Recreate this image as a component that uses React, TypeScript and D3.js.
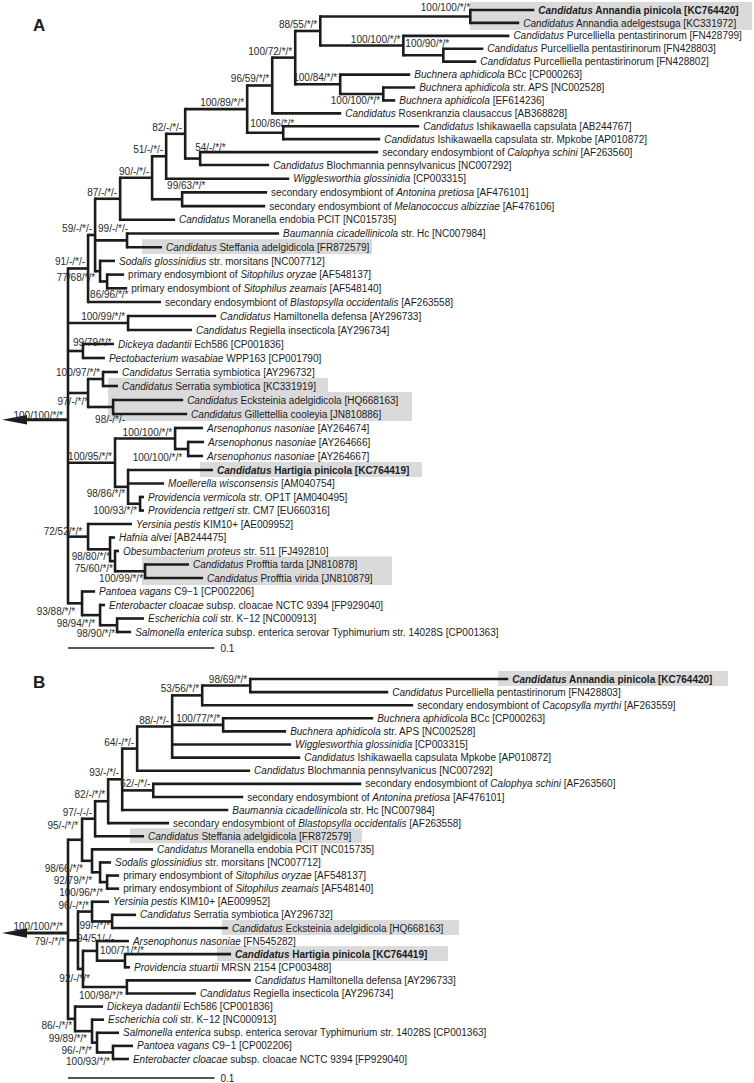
import React from 'react';
import * as d3 from 'd3';

// ---------- DATA: panel A ----------
const taxaA: [string, string][] = [
  ['AnnPin', '*Candidatus* Annandia pinicola [KC764420]'],
  ['AnnAdel', '*Candidatus* Annandia adelgestsuga [KC331972]'],
  ['Purc799', '*Candidatus* Purcelliella pentastirinorum [FN428799]'],
  ['Purc803', '*Candidatus* Purcelliella pentastirinorum [FN428803]'],
  ['Purc802', '*Candidatus* Purcelliella pentastirinorum [FN428802]'],
  ['BuchBCc', '*Buchnera aphidicola* BCc [CP000263]'],
  ['BuchAPS', '*Buchnera aphidicola* str. APS [NC002528]'],
  ['BuchEF', '*Buchnera aphidicola* [EF614236]'],
  ['Rosen', '*Candidatus* Rosenkranzia clausaccus [AB368828]'],
  ['Ishi', '*Candidatus* Ishikawaella capsulata [AB244767]'],
  ['IshiMp', '*Candidatus* Ishikawaella capsulata str. Mpkobe [AP010872]'],
  ['Calophya', 'secondary endosymbiont of *Calophya schini* [AF263560]'],
  ['Bloch', '*Candidatus* Blochmannia pennsylvanicus [NC007292]'],
  ['Wigg', '*Wigglesworthia glossinidia* [CP003315]'],
  ['Antonina', 'secondary endosymbiont of *Antonina pretiosa* [AF476101]'],
  ['Melano', 'secondary endosymbiont of *Melanococcus albizziae* [AF476106]'],
  ['Moranella', '*Candidatus* Moranella endobia PCIT [NC015735]'],
  ['Baumannia', '*Baumannia cicadellinicola* str. Hc [NC007984]'],
  ['Steffania', '*Candidatus* Steffania adelgidicola [FR872579]'],
  ['Sodalis', '*Sodalis glossinidius* str. morsitans [NC007712]'],
  ['SitOry', 'primary endosymbiont of *Sitophilus oryzae* [AF548137]'],
  ['SitZea', 'primary endosymbiont of *Sitophilus zeamais* [AF548140]'],
  ['Blasto', 'secondary endosymbiont of *Blastopsylla occidentalis* [AF263558]'],
  ['Hamilt', '*Candidatus* Hamiltonella defensa [AY296733]'],
  ['Regiella', '*Candidatus* Regiella insecticola [AY296734]'],
  ['Dickeya', '*Dickeya dadantii* Ech586 [CP001836]'],
  ['Pecto', '*Pectobacterium wasabiae* WPP163 [CP001790]'],
  ['SerrAY', '*Candidatus* Serratia symbiotica [AY296732]'],
  ['SerrKC', '*Candidatus* Serratia symbiotica [KC331919]'],
  ['Eck', '*Candidatus* Ecksteinia adelgidicola [HQ668163]'],
  ['Gill', '*Candidatus* Gillettellia cooleyia [JN810886]'],
  ['Ars674', '*Arsenophonus nasoniae* [AY264674]'],
  ['Ars666', '*Arsenophonus nasoniae* [AY264666]'],
  ['Ars667', '*Arsenophonus nasoniae* [AY264667]'],
  ['Hartigia', '*Candidatus* Hartigia pinicola [KC764419]'],
  ['Moell', '*Moellerella wisconsensis* [AM040754]'],
  ['ProvVer', '*Providencia vermicola* str. OP1T [AM040495]'],
  ['ProvRet', '*Providencia rettgeri* str. CM7 [EU660316]'],
  ['Yersinia', '*Yersinia pestis* KIM10+ [AE009952]'],
  ['Hafnia', '*Hafnia alvei* [AB244475]'],
  ['Obesum', '*Obesumbacterium proteus* str. 511 [FJ492810]'],
  ['ProTarda', '*Candidatus* Profftia tarda [JN810878]'],
  ['ProVirida', '*Candidatus* Profftia virida [JN810879]'],
  ['Pantoea', '*Pantoea vagans* C9\u22121 [CP002206]'],
  ['Entero', '*Enterobacter cloacae* subsp. cloacae NCTC 9394 [FP929040]'],
  ['Ecoli', '*Escherichia coli* str. K\u221212 [NC000913]'],
  ['Salm', '*Salmonella enterica* subsp. enterica serovar Typhimurium str. 14028S [CP001363]'],
];

// [node, parent, branch length (substitutions/site)]
const edgesA: [string, string | null, number][] = [
  ['root', null, 0],
  ['N91', 'root', 0.0137],
  ['N59', 'N91', 0.0048],
  ['N87', 'N59', 0.0171],
  ['N90', 'N87', 0.0218],
  ['N51', 'N90', 0.0096],
  ['N82', 'N51', 0.013],
  ['N100_89', 'N82', 0.0423],
  ['N96', 'N100_89', 0.0171],
  ['N100_72', 'N96', 0.0157],
  ['N88', 'N100_72', 0.0171],
  ['NAnn', 'N88', 0.1024],
  ['AnnPin', 'NAnn', 0.0437],
  ['AnnAdel', 'NAnn', 0.0334],
  ['NPurc', 'N88', 0.0567],
  ['Purc799', 'NPurc', 0.0724],
  ['N100_90', 'NPurc', 0.0273],
  ['Purc803', 'N100_90', 0.0273],
  ['Purc802', 'N100_90', 0.0225],
  ['N100_84', 'N100_72', 0.0307],
  ['BuchBCc', 'N100_84', 0.0478],
  ['NAPS', 'N100_84', 0.0294],
  ['BuchAPS', 'NAPS', 0.0218],
  ['BuchEF', 'NAPS', 0.0082],
  ['Rosen', 'N96', 0.0471],
  ['N100_86', 'N100_89', 0.0246],
  ['Ishi', 'N100_86', 0.0928],
  ['IshiMp', 'N100_86', 0.0662],
  ['N54', 'N82', 0.0102],
  ['Calophya', 'N54', 0.1215],
  ['Bloch', 'N54', 0.0471],
  ['Wigg', 'N51', 0.084],
  ['N99_63', 'N90', 0.0205],
  ['Antonina', 'N99_63', 0.058],
  ['Melano', 'N99_63', 0.0567],
  ['Moranella', 'N87', 0.0375],
  ['N99', 'N59', 0.0218],
  ['Baumannia', 'N99', 0.1038],
  ['Steffania', 'N99', 0.0239],
  ['N77', 'N59', 0.0034],
  ['Sodalis', 'N77', 0.0102],
  ['N86_96', 'N77', 0.0048],
  ['SitOry', 'N86_96', 0.0116],
  ['SitZea', 'N86_96', 0.0137],
  ['Blasto', 'N91', 0.0498],
  ['N100_99', 'root', 0.041],
  ['Hamilt', 'N100_99', 0.0601],
  ['Regiella', 'N100_99', 0.0437],
  ['N99_79', 'root', 0.0102],
  ['Dickeya', 'N99_79', 0.0212],
  ['Pecto', 'N99_79', 0.015],
  ['N97', 'root', 0.0137],
  ['N100_97', 'N97', 0.0102],
  ['SerrAY', 'N100_97', 0.0102],
  ['SerrKC', 'N100_97', 0.0102],
  ['N98', 'N97', 0.0171],
  ['Eck', 'N98', 0.0478],
  ['Gill', 'N98', 0.0505],
  ['N100_95', 'root', 0.0321],
  ['NArs', 'N100_95', 0.041],
  ['Ars674', 'NArs', 0.0191],
  ['NArs2', 'NArs', 0.0089],
  ['Ars666', 'NArs2', 0.0109],
  ['Ars667', 'NArs2', 0.0102],
  ['N98_86', 'N100_95', 0.0089],
  ['Hartigia', 'N98_86', 0.058],
  ['Moell', 'N98_86', 0.0246],
  ['N100_93', 'N98_86', 0.0082],
  ['ProvVer', 'N100_93', 0.0027],
  ['ProvRet', 'N100_93', 0.0027],
  ['N72', 'root', 0.0137],
  ['Yersinia', 'N72', 0.03],
  ['N98_80', 'N72', 0.015],
  ['Hafnia', 'N98_80', 0.0034],
  ['N75', 'N98_80', 0.0034],
  ['Obesum', 'N75', 0.0027],
  ['N100_99b', 'N75', 0.0205],
  ['ProTarda', 'N100_99b', 0.03],
  ['ProVirida', 'N100_99b', 0.0396],
  ['N93', 'root', 0.0096],
  ['Pantoea', 'N93', 0.0089],
  ['N98_94', 'N93', 0.0123],
  ['Entero', 'N98_94', 0.0034],
  ['N98_90', 'N98_94', 0.0116],
  ['Ecoli', 'N98_90', 0.0184],
  ['Salm', 'N98_90', 0.0096],
];

const supportA: [string, string][] = [
  ['root', '100/100/*/*'], ['N91', '91/-/*/-'], ['N59', '59/-/*/-'], ['N87', '87/-/*/-'],
  ['N90', '90/-/*/-'], ['N51', '51/-/*/-'], ['N82', '82/-/*/-'], ['N100_89', '100/89/*/*'],
  ['N96', '96/59/*/*'], ['N100_72', '100/72/*/*'], ['N88', '88/55/*/*'], ['NAnn', '100/100/*/*'],
  ['NPurc', '100/100/*/*'], ['N100_90', '100/90/*/*'], ['N100_84', '100/84/*/*'], ['NAPS', '100/100/*/*'],
  ['N100_86', '100/86/*/*'], ['N54', '54/-/*/*'], ['N99_63', '99/63/*/*'], ['N99', '99/-/*/-'],
  ['N77', '77/68/*/*'], ['N86_96', '86/96/*/*'], ['N100_99', '100/99/*/*'], ['N99_79', '99/79/*/*'],
  ['N100_97', '100/97/*/*'], ['N97', '97/-/*/*'], ['N98', '98/-/*/-'], ['N100_95', '100/95/*/*'],
  ['NArs', '100/100/*/*'], ['NArs2', '100/100/*/*'], ['N98_86', '98/86/*/*'], ['N100_93', '100/93/*/*'],
  ['N72', '72/52/*/*'], ['N98_80', '98/80/*/*'], ['N75', '75/60/*/*'], ['N100_99b', '100/99/*/*'],
  ['N93', '93/88/*/*'], ['N98_94', '98/94/*/*'], ['N98_90', '98/90/*/*'],
];

// ---------- DATA: panel B ----------
const taxaB: [string, string][] = [
  ['AnnPin', '*Candidatus* Annandia pinicola [KC764420]'],
  ['Purc803', '*Candidatus* Purcelliella pentastirinorum [FN428803]'],
  ['Cacop', 'secondary endosymbiont of *Cacopsylla myrthi* [AF263559]'],
  ['BuchBCc', '*Buchnera aphidicola* BCc [CP000263]'],
  ['BuchAPS', '*Buchnera aphidicola* str. APS [NC002528]'],
  ['Wigg', '*Wigglesworthia glossinidia* [CP003315]'],
  ['IshiMp', '*Candidatus* Ishikawaella capsulata Mpkobe [AP010872]'],
  ['Bloch', '*Candidatus* Blochmannia pennsylvanicus [NC007292]'],
  ['Calophya', 'secondary endosymbiont of *Calophya schini* [AF263560]'],
  ['Antonina', 'secondary endosymbiont of *Antonina pretiosa* [AF476101]'],
  ['Baumannia', '*Baumannia cicadellinicola* str. Hc [NC007984]'],
  ['Blasto', 'secondary endosymbiont of *Blastopsylla occidentalis* [AF263558]'],
  ['Steffania', '*Candidatus* Steffania adelgidicola [FR872579]'],
  ['Moranella', '*Candidatus* Moranella endobia PCIT [NC015735]'],
  ['Sodalis', '*Sodalis glossinidius* str. morsitans [NC007712]'],
  ['SitOry', 'primary endosymbiont of *Sitophilus oryzae* [AF548137]'],
  ['SitZea', 'primary endosymbiont of *Sitophilus zeamais* [AF548140]'],
  ['Yersinia', '*Yersinia pestis* KIM10+ [AE009952]'],
  ['SerrAY', '*Candidatus* Serratia symbiotica [AY296732]'],
  ['Eck', '*Candidatus* Ecksteinia adelgidicola [HQ668163]'],
  ['ArsB', '*Arsenophonus nasoniae* [FN545282]'],
  ['Hartigia', '*Candidatus* Hartigia pinicola [KC764419]'],
  ['ProvStu', '*Providencia stuartii* MRSN 2154 [CP003488]'],
  ['Hamilt', '*Candidatus* Hamiltonella defensa [AY296733]'],
  ['Regiella', '*Candidatus* Regiella insecticola [AY296734]'],
  ['Dickeya', '*Dickeya dadantii* Ech586 [CP001836]'],
  ['Ecoli', '*Escherichia coli* str. K\u221212 [NC000913]'],
  ['Salm', '*Salmonella enterica* subsp. enterica serovar Typhimurium str. 14028S [CP001363]'],
  ['Pantoea', '*Pantoea vagans* C9\u22121 [CP002206]'],
  ['Entero', '*Enterobacter cloacae* subsp. cloacae NCTC 9394 [FP929040]'],
];

const edgesB: [string, string | null, number][] = [
  ['root', null, 0],
  ['N95B', 'root', 0.0096],
  ['N97B', 'N95B', 0.0089],
  ['N82B', 'N97B', 0.0089],
  ['N93B', 'N82B', 0.0096],
  ['N64', 'N93B', 0.0102],
  ['N88B', 'N64', 0.0239],
  ['N53', 'N88B', 0.0205],
  ['N98_69', 'N53', 0.0328],
  ['AnnPin', 'N98_69', 0.1761],
  ['Purc803', 'N98_69', 0.0942],
  ['Cacop', 'N53', 0.144],
  ['N100_77', 'N88B', 0.0348],
  ['BuchBCc', 'N100_77', 0.1024],
  ['BuchAPS', 'N100_77', 0.043],
  ['Wigg', 'N88B', 0.0812],
  ['IshiMp', 'N88B', 0.0874],
  ['Bloch', 'N64', 0.0771],
  ['N62', 'N93B', 0.0212],
  ['Calophya', 'N62', 0.142],
  ['Antonina', 'N62', 0.0614],
  ['Baumannia', 'N93B', 0.0724],
  ['Blasto', 'N82B', 0.0416],
  ['Steffania', 'N97B', 0.0334],
  ['N98_66', 'N95B', 0.0068],
  ['Moranella', 'N98_66', 0.0416],
  ['N92', 'N98_66', 0.0055],
  ['Sodalis', 'N92', 0.0075],
  ['N100_96', 'N92', 0.0048],
  ['SitOry', 'N100_96', 0.0082],
  ['SitZea', 'N100_96', 0.0082],
  ['N79', 'root', 0.0068],
  ['N96B', 'N79', 0.0096],
  ['Yersinia', 'N96B', 0.0116],
  ['N99B', 'N96B', 0.0137],
  ['SerrAY', 'N99B', 0.0164],
  ['Eck', 'N99B', 0.0792],
  ['N92B', 'N79', 0.0034],
  ['N94', 'N92B', 0.0096],
  ['ArsB', 'N94', 0.0218],
  ['N100_71', 'N94', 0.0191],
  ['Hartigia', 'N100_71', 0.0724],
  ['ProvStu', 'N100_71', 0.0034],
  ['N100_98', 'N92B', 0.03],
  ['Hamilt', 'N100_98', 0.0846],
  ['Regiella', 'N100_98', 0.0471],
  ['N86', 'root', 0.0048],
  ['Dickeya', 'N86', 0.0191],
  ['N99_89', 'N86', 0.0116],
  ['Ecoli', 'N99_89', 0.0082],
  ['N96B2', 'N99_89', 0.0034],
  ['Salm', 'N96B2', 0.015],
  ['N100_93B', 'N96B2', 0.0109],
  ['Pantoea', 'N100_93B', 0.0137],
  ['Entero', 'N100_93B', 0.0109],
];

const supportB: [string, string][] = [
  ['root', '100/100/*/*'], ['N95B', '95/-/*/*'], ['N97B', '97/-/-/-'], ['N82B', '82/-/*/*'],
  ['N93B', '93/-/*/-'], ['N64', '64/-/*/-'], ['N88B', '88/-/*/-'], ['N53', '53/56/*/*'],
  ['N98_69', '98/69/*/*'], ['N100_77', '100/77/*/*'], ['N62', '62/-/*/-'], ['N98_66', '98/66/*/*'],
  ['N92', '92/79/*/*'], ['N100_96', '100/96/*/*'], ['N79', '79/-/*/*'], ['N96B', '96/-/*/*'],
  ['N99B', '99/-/*/*'], ['N92B', '92/-/*/*'], ['N94', '94/51/-/-'], ['N100_71', '100/71/*/*'],
  ['N100_98', '100/98/*/*'], ['N86', '86/-/*/*'], ['N99_89', '99/89/*/*'], ['N96B2', '96/-/*/*'],
  ['N100_93B', '100/93/*/*'],
];

const boldTaxa = ['AnnPin', 'Hartigia'];
const scaleBarValue = 0.1;

// ---------- STYLE / LAYOUT ----------
const FONT = "'Liberation Sans', Arial, Helvetica, sans-serif";
const INK = '#1c1c1c';
const BOX = '#dadada';

type Place = [string, number, number];

const layoutA = {
  letter: 'A', letterY: 31,
  yDomain: [0, 12, 22, 34, 46], yRange: [10, 165, 302, 470, 632],
  scaleBarY: 648,
  placement: {
    root: ['end', -5, -1], NAnn: ['end', 0, -5], N100_90: ['start', -38, -8], NAPS: ['end', -3, 10],
    N100_86: ['start', -33, -6], N54: ['start', -5, -8], N99_63: ['start', -15, -10], N99: ['end', 1, -8],
    N77: ['end', -5, 9.5], N86_96: ['start', -17, 17], N99_79: ['start', -10, -5], N97: ['end', 0, 11.5],
    N98: ['end', 12, 16], NArs2: ['end', -6, 11.5], N98_86: ['end', -3, 10], N100_93: ['end', -3, 10],
    N72: ['end', -6, -2], N98_80: ['end', 0, 11], N75: ['end', -2, 10.5], N100_99b: ['end', -2, 10.5],
    N93: ['end', -7, 12], N98_94: ['end', -5, 11.5], N98_90: ['end', -2, 11.5],
  } as Record<string, Place>,
  boxes: [
    { from: 'AnnPin', to: 'AnnAdel', x0: 470, x1: 752 },
    { from: 'Steffania', to: 'Steffania', x0: 142, x1: 372 },
    { from: 'SerrKC', to: 'SerrKC', x0: 108, x1: 328 },
    { from: 'Eck', to: 'Gill', x0: 108, x1: 412 },
    { from: 'Hartigia', to: 'Hartigia', x0: 200, x1: 422 },
    { from: 'ProTarda', to: 'ProVirida', x0: 142, x1: 392 },
  ],
};

const layoutB = {
  letter: 'B', letterY: 688,
  yDomain: [0, 29], yRange: [679, 1059],
  scaleBarY: 1078,
  placement: {
    root: ['end', -5, -3], N95B: ['end', -4, -11], N98_66: ['end', -9, 11], N92: ['end', -8, 11.5],
    N100_96: ['end', -4, 13.5], N99B: ['end', -2, 7.5], N94: ['start', -20, -9], N79: ['end', -13, 5],
    N100_71: ['start', -25, -7], N92B: ['end', 7, 13], N100_98: ['end', -4, 12], N86: ['end', -3, 9.7],
    N99_89: ['end', -5, 10.4], N96B2: ['end', -5, 11], N100_93B: ['end', -3, 13],
  } as Record<string, Place>,
  boxes: [
    { from: 'AnnPin', to: 'AnnPin', x0: 498, x1: 728 },
    { from: 'Steffania', to: 'Steffania', x0: 130, x1: 362 },
    { from: 'Eck', to: 'Eck', x0: 222, x1: 459 },
    { from: 'Hartigia', to: 'Hartigia', x0: 217, x1: 448 },
  ],
};

function TaxonText({ text, x, y, bold }: { text: string; x: number; y: number; bold: boolean }) {
  const parts = text.split('*');
  return (
    <text x={x} y={y} fontWeight={bold ? 'bold' : 'normal'} style={{ whiteSpace: 'pre' }}>
      {parts.map((p, i) => (p ? <tspan key={i} fontStyle={i % 2 === 1 ? 'italic' : 'normal'}>{p}</tspan> : null))}
    </text>
  );
}

function Panel({ taxa, edges, support, layout }: any) {
  const names = new Map<string, string>(taxa);
  const supp = new Map<string, string>(support);
  const root: any = d3.stratify<any>().id((d: any) => d[0]).parentId((d: any) => d[1])(edges);
  const x = d3.scaleLinear().domain([0, scaleBarValue]).range([68, 214.5]);
  const y = d3.scaleLinear().domain(layout.yDomain).range(layout.yRange);

  root.eachBefore((n: any) => {
    n.dist = (n.parent ? n.parent.dist : 0) + n.data[2];
    n.px = x(n.dist);
  });
  const leaves = root.leaves();
  leaves.forEach((l: any, i: number) => { l.py = y(i); });
  root.eachAfter((n: any) => {
    if (n.children) {
      n.py = n.parent
        ? (n.children[0].py + n.children[n.children.length - 1].py) / 2
        : (d3.mean(n.children, (c: any) => c.py) as number);
    }
  });
  const byId = new Map<string, any>();
  root.each((n: any) => byId.set(n.id, n));
  const nodes = root.descendants();

  return (
    <g>
      {layout.boxes.map((b: any, i: number) => {
        const a = byId.get(b.from), c = byId.get(b.to);
        return <rect key={'bx' + i} x={b.x0} y={a.py - 8} width={b.x1 - b.x0} height={c.py - a.py + 15} fill={BOX} />;
      })}
      <g stroke={INK} strokeWidth={2.6} fill="none">
        {nodes.filter((n: any) => n.parent).map((n: any) => (
          <path key={'h' + n.id} d={`M${n.parent.px},${n.py}H${n.px}`} strokeLinecap="butt" />
        ))}
        {nodes.filter((n: any) => n.children).map((n: any) => (
          <path key={'v' + n.id} d={`M${n.px},${n.children[0].py}V${n.children[n.children.length - 1].py}`} strokeLinecap="square" />
        ))}
        <path d={`M22,${root.py}H${root.px}`} strokeWidth={2.9} />
      </g>
      <path d={`M2,${root.py}L27,${root.py - 4.8}L27,${root.py + 4.8}Z`} fill={INK} />
      <g fontFamily={FONT} fontSize={10} fill={INK}>
        {leaves.map((l: any) => (
          <TaxonText key={'t' + l.id} text={names.get(l.id) as string} x={l.px + 4} y={l.py + 3.6} bold={boldTaxa.includes(l.id)} />
        ))}
        {nodes.filter((n: any) => supp.has(n.id)).map((n: any) => {
          const p: Place = layout.placement[n.id] || ['end', -3, -3];
          return (
            <text key={'s' + n.id} x={n.px + p[1]} y={n.py + p[2]} textAnchor={p[0]} fill="#2a2a2a">
              {supp.get(n.id)}
            </text>
          );
        })}
        <text x={33} y={layout.letterY} fontSize={17} fontWeight="bold">{layout.letter}</text>
        <line x1={x(0)} x2={x(scaleBarValue)} y1={layout.scaleBarY} y2={layout.scaleBarY} stroke={INK} strokeWidth={1.3} />
        <text x={x(scaleBarValue) + 6} y={layout.scaleBarY + 3.6}>{String(scaleBarValue)}</text>
      </g>
    </g>
  );
}

export default function App() {
  return (
    <div style={{ position: 'absolute', left: 0, top: 0 }}>
      <svg width={754} height={1083} viewBox="0 0 754 1083" style={{ display: 'block', background: '#fff' }}>
        <rect width={754} height={1083} fill="#fff" />
        <Panel taxa={taxaA} edges={edgesA} support={supportA} layout={layoutA} />
        <Panel taxa={taxaB} edges={edgesB} support={supportB} layout={layoutB} />
      </svg>
    </div>
  );
}
